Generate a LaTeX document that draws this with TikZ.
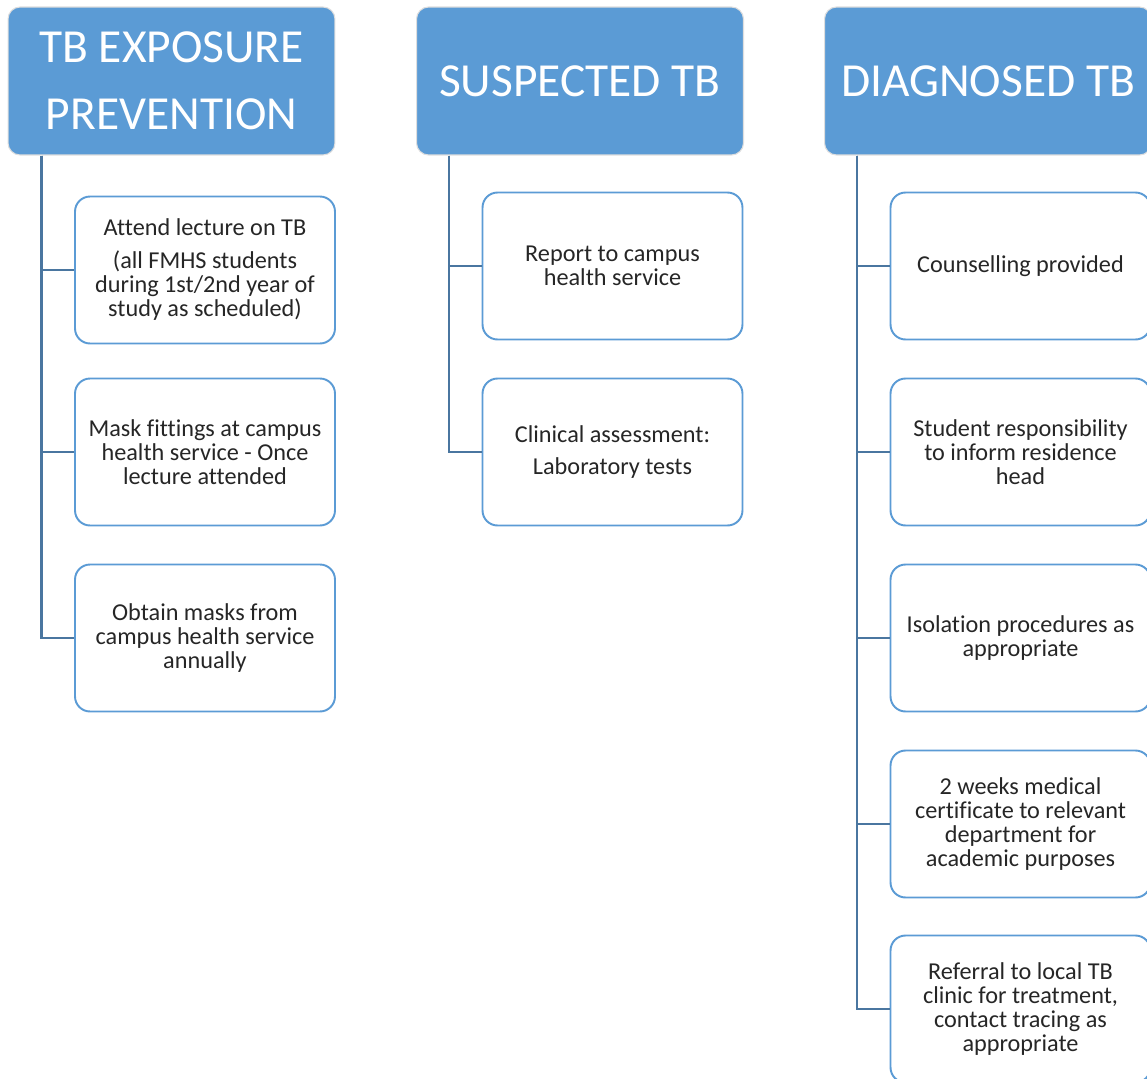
\documentclass[tikz,border=0pt]{standalone}
\usepackage{fontspec}
\setmainfont{Carlito}[Ligatures=NoCommon]
\usepackage{tikz}
\usetikzlibrary{positioning}
\definecolor{headblue}{HTML}{5B9BD5}
\definecolor{linkblue}{HTML}{4A76A0}
\definecolor{txtgray}{HTML}{262626}
\tikzset{
  header/.style={rectangle, rounded corners=0.24cm, fill=headblue, draw=black!13,
    line width=0.6pt, minimum width=6.54cm, minimum height=2.96cm, inner sep=0pt,
    align=center, text=white, font=\fontsize{27}{38}\selectfont},
  item/.style={rectangle, rounded corners=0.3cm, fill=white, draw=headblue,
    line width=1.1pt, minimum width=5.2cm, minimum height=2.94cm, inner sep=0pt,
    align=center, text=txtgray, font=\fontsize{13.8}{13.7}\selectfont},
  link/.style={draw=linkblue, line width=1.5pt}
}
\begin{document}
\begin{tikzpicture}[x=0.02cm,y=-0.02cm]
\clip (0,0) rectangle (1147,1079);
\fill[white] (0,0) rectangle (1147,1079);
% column headers
\node[header] (tbexp) at (171.5,81) {TB EXPOSURE\\PREVENTION};
\node[header] (susp) at (580,81) {SUSPECTED TB};
\node[header] (diag) at (988,81) {DIAGNOSED TB};
% first column
\node[item] (e1) at (205,270) {Attend lecture on TB\\[5pt] (all FMHS students\\during 1st/2nd year of\\study as scheduled)};
\node[item] (e2) at (205,452) {Mask fittings at campus\\health service - Once\\lecture attended};
\node[item] (e3) at (205,638) {Obtain masks from\\campus health service\\annually};
% second column
\node[item] (s1) at (612.5,266) {Report to campus\\health service};
\node[item] (s2) at (612.5,452) {Clinical assessment:\\[4.5pt] Laboratory tests};
% third column
\node[item] (d1) at (1020.5,266) {Counselling provided};
\node[item] (d2) at (1020.5,452) {Student responsibility\\to inform residence\\head};
\node[item] (d3) at (1020.5,638) {Isolation procedures as\\appropriate};
\node[item] (d4) at (1020.5,824) {2 weeks medical\\certificate to relevant\\department for\\academic purposes};
\node[item] (d5) at (1020.5,1009) {Referral to local TB\\clinic for treatment,\\contact tracing as\\appropriate};
% connectors
\coordinate (etop) at ([xshift=0.68cm]tbexp.south west);
\coordinate (stop) at ([xshift=0.66cm]susp.south west);
\coordinate (dtop) at ([xshift=0.66cm]diag.south west);
\foreach \n in {e1,e2,e3} \draw[link] (etop) |- (\n.west);
\foreach \n in {s1,s2} \draw[link] (stop) |- (\n.west);
\foreach \n in {d1,d2,d3,d4,d5} \draw[link] (dtop) |- (\n.west);
\end{tikzpicture}
\end{document}
